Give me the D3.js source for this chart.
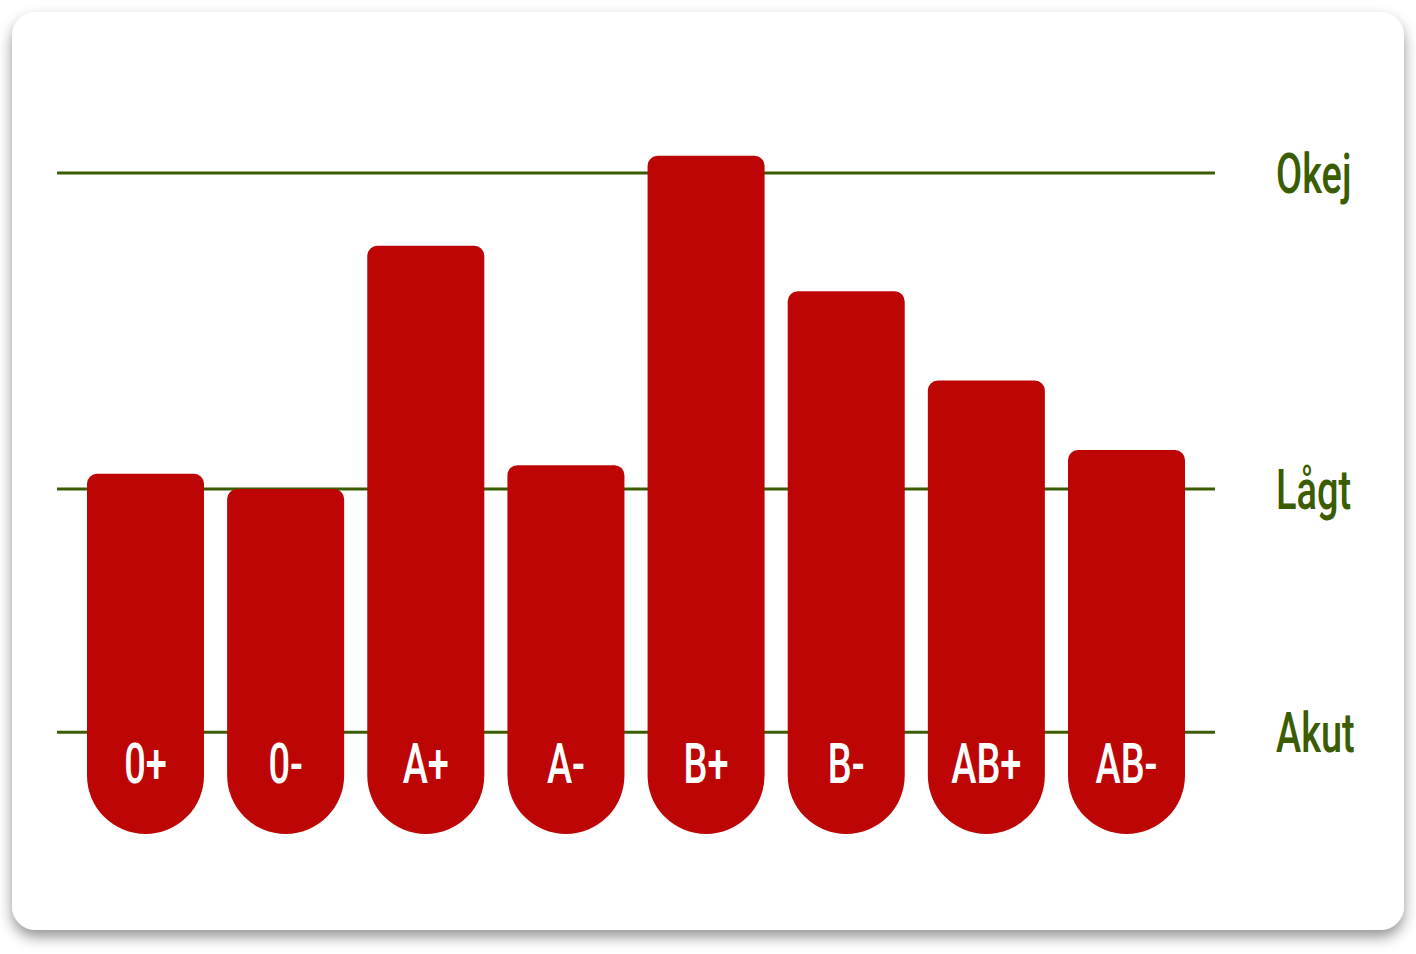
<!DOCTYPE html>
<html>
<head>
<meta charset="utf-8">
<script src="https://cdn.jsdelivr.net/npm/d3@7"></script>
<style>
  html, body { margin: 0; padding: 0; background: #ffffff; }
  svg { display: block; }
  text { font-family: Roboto, 'Liberation Sans', sans-serif; font-weight: 500; }
</style>
</head>
<body>
<svg id="chart"></svg>
<script>
'use strict';

// blood groups (Swedish notation) and stock level per group
const groups = ['0+', '0-', 'A+', 'A-', 'B+', 'B-', 'AB+', 'AB-'];
const levels = [54.5, 52.2, 89.0, 55.8, 102.6, 82.1, 68.6, 58.1];

// reference levels
const thresholdNames = ['Okej', 'Lågt', 'Akut'];
const thresholdValues = [100, 52.2, 15.4];

const width = 1416;
const height = 954;

const svg = d3.select('#chart')
  .attr('width', width)
  .attr('height', height);

// card + shadow
const filter = svg.append('defs').append('filter')
  .attr('id', 'shadow')
  .attr('x', '-5%').attr('y', '-5%')
  .attr('width', '110%').attr('height', '115%');
filter.append('feDropShadow')
  .attr('dx', 0).attr('dy', 7)
  .attr('stdDeviation', 7)
  .attr('flood-color', '#000')
  .attr('flood-opacity', 0.42);

svg.append('rect')
  .attr('x', 12).attr('y', 12)
  .attr('width', 1392).attr('height', 918)
  .attr('rx', 24)
  .attr('fill', '#ffffff')
  .attr('filter', 'url(#shadow)');

const x = d3.scaleBand()
  .domain(groups)
  .range([87, 1185])
  .paddingInner(0.165)
  .paddingOuter(0);

const y = d3.scaleLinear()
  .domain([0, 100])
  .range([834, 173]);

const green = '#3b5c00';
const red = '#bd0505';
const xScale = 0.69; // squeeze the text to look condensed

// threshold lines
svg.append('g')
  .selectAll('line')
  .data(thresholdValues)
  .join('line')
    .attr('x1', 57)
    .attr('x2', 1215)
    .attr('y1', d => y(d))
    .attr('y2', d => y(d))
    .attr('stroke', green)
    .attr('stroke-width', 3);

svg.append('g')
  .selectAll('text')
  .data(thresholdValues)
  .join('text')
    .attr('transform', d => `translate(1276,${y(d) + 20}) scale(${xScale},1)`)
    .attr('fill', green)
    .style('font-size', '55px')
    .text((d, i) => thresholdNames[i]);

// drop-shaped bars
const r = 10;
const bw = x.bandwidth();
const dropPath = (g, v) => {
  const x0 = x(g);
  const x1 = x0 + bw;
  const top = y(v);
  const cy = y(0) - bw / 2;
  return `M${x0},${cy}L${x0},${top + r}A${r},${r} 0 0 1 ${x0 + r},${top}` +
    `L${x1 - r},${top}A${r},${r} 0 0 1 ${x1},${top + r}L${x1},${cy}` +
    `A${bw / 2},${bw / 2} 0 0 1 ${x0},${cy}Z`;
};

const bar = svg.append('g')
  .selectAll('g')
  .data(groups)
  .join('g');

bar.append('path')
  .attr('d', (d, i) => dropPath(d, levels[i]))
  .attr('fill', red);

bar.append('text')
  .attr('transform', d => `translate(${x(d) + bw / 2},783) scale(${xScale},1)`)
  .attr('text-anchor', 'middle')
  .attr('fill', '#ffffff')
  .style('font-size', '55px')
  .text(d => d);
</script>
</body>
</html>
